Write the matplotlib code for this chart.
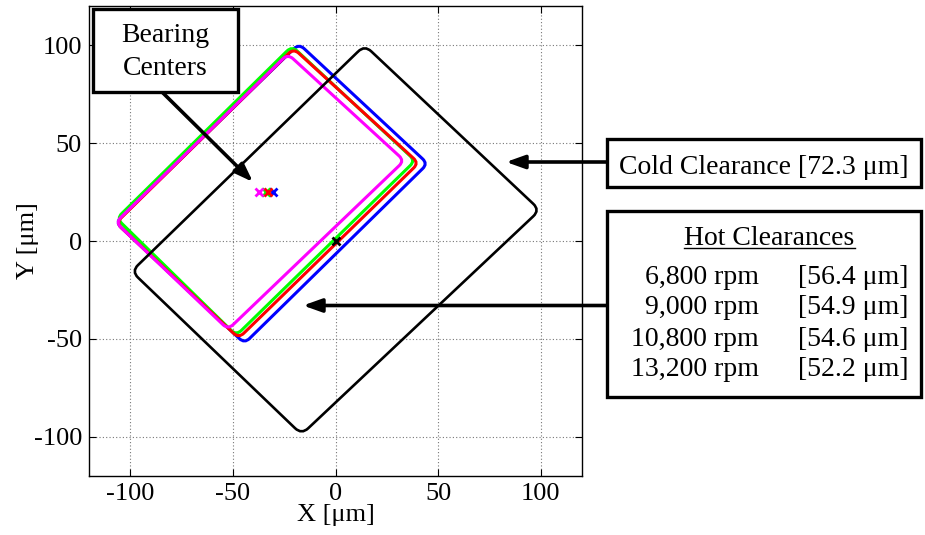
import matplotlib
matplotlib.use("Agg")
import matplotlib.pyplot as plt
from matplotlib.path import Path
from matplotlib.patches import PathPatch, Rectangle
from matplotlib.lines import Line2D

plt.rcParams["font.family"] = ["Liberation Serif", "DejaVu Serif"]
plt.rcParams["axes.unicode_minus"] = False

# ── data (orbit corners: top, right, bottom, left) ──
cold_x = [14.2, 99.5, -16.5, -99.3]
cold_y = [100.0, 15.8, -98.8, -15.5]

hot_names = ["6,800 rpm", "9,000 rpm", "10,800 rpm", "13,200 rpm"]
hot_vals = ["[56.4 μm]", "[54.9 μm]", "[54.6 μm]", "[52.2 μm]"]
hot_colors = ["#0000ff", "#00ff00", "#ff0000", "#ff00ff"]
hot_x = [[-17.8, 44.9, -44.3, -107.0],
         [-21.2, 38.8, -48.3, -106.5],
         [-20.4, 40.5, -47.1, -106.8],
         [-23.2, 33.5, -52.3, -107.0]]
hot_y = [[100.7, 39.5, -52.3, 9.5],
         [99.5, 41.0, -48.2, 11.5],
         [98.3, 39.8, -49.6, 9.3],
         [95.5, 41.0, -45.2, 9.5]]

# bearing centres (markers)
ctr_x = [-30.2, -34.0, -33.0, -37.0]
ctr_y = [25.0, 25.2, 25.2, 25.2]
cold_ctr = (0.0, 0.0)

ticks = [-100, -50, 0, 50, 100]

W, H = 925, 535


def fp(px, py):
    """pixel (top-left origin) -> figure fraction"""
    return px / W, 1 - py / H


def rounded(xs, ys, r=5.0):
    n = len(xs)
    verts, codes = [], []
    for i in range(n):
        vx, vy = xs[i], ys[i]
        px, py = xs[i - 1], ys[i - 1]
        nx, ny = xs[(i + 1) % n], ys[(i + 1) % n]
        d1 = ((px - vx) ** 2 + (py - vy) ** 2) ** .5
        d2 = ((nx - vx) ** 2 + (ny - vy) ** 2) ** .5
        a = (vx + (px - vx) * r / d1, vy + (py - vy) * r / d1)
        b = (vx + (nx - vx) * r / d2, vy + (ny - vy) * r / d2)
        verts += [a, (vx, vy), b]
        codes += [Path.MOVETO if i == 0 else Path.LINETO, Path.CURVE3, Path.CURVE3]
    verts.append(verts[0]); codes.append(Path.LINETO)
    return Path(verts, codes)


fig = plt.figure(figsize=(W / 100, H / 100), dpi=100)
l, b = fp(89, 476)
r, t = fp(582, 6)
ax = fig.add_axes([l, b, r - l, t - b])

for xs, ys, c in zip(hot_x, hot_y, hot_colors):
    ax.add_patch(PathPatch(rounded(xs, ys, 3.5), fill=False, ec=c, lw=2.2, zorder=3))
ax.add_patch(PathPatch(rounded(cold_x, cold_y, 4.5), fill=False, ec="k", lw=1.9, zorder=4))

for cx, cy, c in zip(ctr_x, ctr_y, hot_colors):
    ax.plot(cx, cy, "x", color=c, ms=6, mew=2, zorder=5)
ax.plot(*cold_ctr, "x", color="k", ms=6, mew=2, zorder=5)

ax.set_xlim(-120, 120); ax.set_ylim(-120, 120)
ax.set_xticks(ticks); ax.set_yticks(ticks)
ax.tick_params(direction="in", length=5, top=True, right=True, labelsize=19, pad=5)
ax.grid(True, ls=(0, (1, 2)), color="#777777", lw=0.8)
ax.set_axisbelow(True)
for s in ax.spines.values():
    s.set_linewidth(1.0)
ax.set_xlabel("X [μm]", fontsize=19, labelpad=-1)
ax.set_ylabel("Y [μm]", fontsize=19, labelpad=-4)

# ── annotation boxes ──
def box(x0, y0, x1, y1):
    (fx0, fy1), (fx1, fy0) = fp(x0, y0), fp(x1, y1)
    fig.patches.append(Rectangle((fx0, fy0), fx1 - fx0, fy1 - fy0, transform=fig.transFigure,
                                 fc="w", ec="k", lw=2.4, zorder=6))


def arrow(x0, y0, tip_x, tip_y):
    ax.annotate("", xy=(tip_x, tip_y), xycoords="figure pixels",
                xytext=(x0, y0), textcoords="figure pixels",
                arrowprops=dict(arrowstyle="-|>,head_length=0.7,head_width=0.25", lw=2.6,
                                color="k", mutation_scale=16, shrinkA=0, shrinkB=0),
                annotation_clip=False, zorder=7)


box(93, 9, 238, 92)
fig.text(*fp(165.5, 52), "Bearing\nCenters", ha="center", va="center", fontsize=20,
         linespacing=1.4, zorder=8)
arrow(163, H - 93, 253, H - 182)

box(607, 139, 921, 187)
fig.text(*fp(764, 174), "Cold Clearance [72.3 μm]", ha="center", va="baseline", fontsize=20, zorder=8)
arrow(607, H - 162, 506, H - 162)

box(607, 211, 921, 397)
fig.text(*fp(769, 245), "Hot Clearances", ha="center", va="baseline", fontsize=20, zorder=8)
(ux0, uy), (ux1, _) = fp(684, 248), fp(855, 248)
fig.lines.append(Line2D([ux0, ux1], [uy, uy], transform=fig.transFigure, color="k", lw=1.0, zorder=8))
for k, (nm, v) in enumerate(zip(hot_names, hot_vals)):
    yb = 283.5 + 31 * k
    fig.text(*fp(759, yb), nm, ha="right", va="baseline", fontsize=20, zorder=8)
    fig.text(*fp(798, yb), v, ha="left", va="baseline", fontsize=20, zorder=8)
arrow(607, H - 305.5, 303, H - 305.5)

fig.savefig("out.png", dpi=100)
